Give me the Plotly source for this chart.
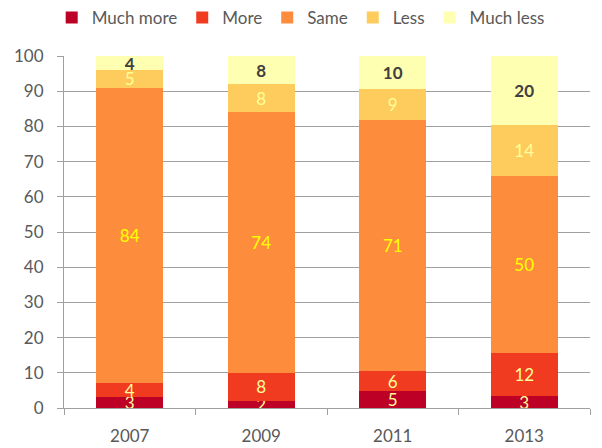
import plotly.graph_objects as go

years = ["2007", "2009", "2011", "2013"]
series_names = ["Much more", "More", "Same", "Less", "Much less"]
much_more = [3.0, 2.0, 4.7, 3.4]
more = [4.0, 8.0, 5.9, 12.2]
same = [84.0, 74.0, 71.3, 50.3]
less = [5.0, 8.0, 8.6, 14.4]
much_less = [4.0, 8.0, 9.5, 19.7]
y_ticks = [0, 10, 20, 30, 40, 50, 60, 70, 80, 90, 100]

colors = ["#BD0026", "#F03B20", "#FD8D3C", "#FECC5C", "#FFFFB2"]
text_colors = ["#FFFF99", "#FFFF99", "#FFFF00", "#FFFF99", "#404040"]
values = [much_more, more, same, less, much_less]

FONT = "Lato, Carlito, Calibri, sans-serif"

fig = go.Figure()
for name, vals, col, tcol in zip(series_names, values, colors, text_colors):
    fig.add_trace(go.Bar(
        x=years, y=vals, name=name,
        marker=dict(color=col, line=dict(width=0)),
        text=[f"{v:.0f}" for v in vals],
        texttemplate="%{text}",
        textposition="inside",
        insidetextanchor="middle",
        textangle=0,
        textfont=dict(color=tcol, size=17, family=FONT,
                      weight="bold" if name == "Much less" else "normal"),
        hoverinfo="skip",
    ))

fig.update_layout(
    barmode="stack",
    bargap=0.49,
    width=594, height=440,
    margin=dict(l=56, r=12, t=48, b=40, autoexpand=False),
    paper_bgcolor="white", plot_bgcolor="white",
    font=dict(family=FONT, size=17, color="#595959"),
    uniformtext=dict(minsize=17, mode="show"),
    legend=dict(orientation="h", x=0.45, xanchor="center",
                y=1.057, yanchor="bottom",
                font=dict(size=17, color="#595959"),
                itemwidth=30, tracegroupgap=0, traceorder="normal"),
    showlegend=True,
)
fig.update_xaxes(type="category", showline=True, linecolor="#A0A0A0", linewidth=1,
                 ticks="outside", tickson="boundaries", ticklen=6, tickcolor="#A0A0A0",
                 showgrid=False, automargin=False, ticklabelstandoff=13,
                 tickfont=dict(size=17, color="#595959"))
fig.update_yaxes(range=[0, 100], tickvals=y_ticks, showline=True, linecolor="#A0A0A0",
                 linewidth=1, ticks="outside", ticklen=6, tickcolor="#A0A0A0",
                 showgrid=True, gridcolor="#A0A0A0", gridwidth=1, zeroline=False,
                 automargin=False, ticklabelstandoff=10,
                 tickfont=dict(size=17, color="#595959"))

fig.write_html("out.html")
